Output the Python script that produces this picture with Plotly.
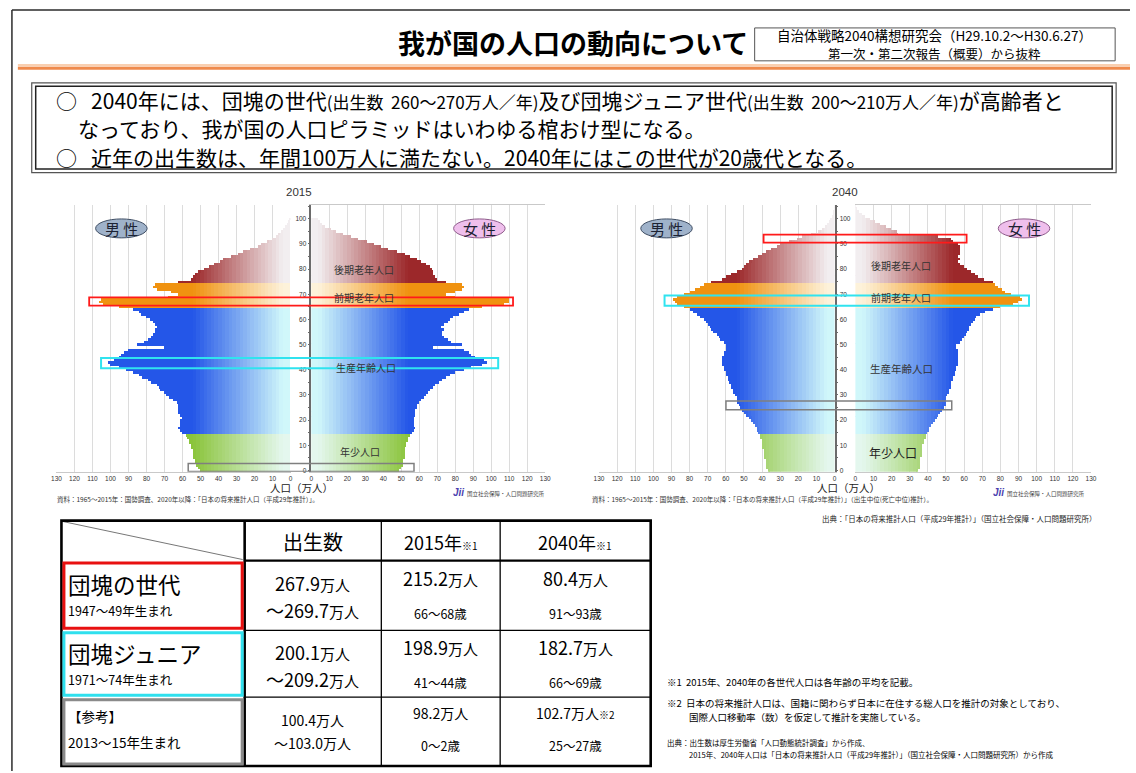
import plotly.graph_objects as go

W, H = 1136, 773


def X(px):
    return px / W


def Y(py):
    return 1 - py / H


# ---------------- data (万人, single-year ages) ----------------
ages_2015 = list(range(0, 101))
male_2015 = [
    50, 51, 52, 53, 53, 54, 54, 54, 54, 55,
    55, 56, 56, 57, 58, 60, 61, 62, 61, 61,
    61, 60, 61, 62, 62, 62, 62, 63, 65, 67,
    69, 70, 72, 73, 74, 77, 79, 82, 84, 87,
    91, 95, 100, 101, 98, 95, 94, 92, 90, 70,
    85, 81, 79, 77, 76, 75, 75, 74, 75, 76,
    78, 80, 83, 84, 87, 95, 104, 106, 105, 68,
    62, 66, 74, 76, 75, 62, 55, 54, 53, 51,
    48, 45, 42, 39, 37, 33, 29, 26, 22, 18,
    16, 13, 10, 8, 6.5, 4.6, 3.7, 2.8, 1.8, 1.3, 0.7,
]
female_2015 = [
    49, 50, 51, 51, 51, 52, 52, 52, 52, 52,
    53, 53, 54, 54, 55, 56, 57, 58, 57, 57,
    57, 57, 58, 58, 58, 59, 59, 60, 61, 63,
    64, 65, 66, 68, 69, 71, 73, 75, 77, 80,
    85, 89, 95, 98, 96, 91, 89, 88, 85, 68,
    84, 78, 76, 74, 73, 73, 74, 72, 74, 76,
    77, 79, 82, 85, 88, 95, 107, 110, 110, 80,
    75, 80, 84, 85, 84, 75, 70, 69, 68, 68,
    67, 66, 64, 61, 59, 55, 52, 48, 43, 39,
    35, 31, 26, 22, 18, 14, 11, 8, 6, 5, 4,
]
ages_2040 = list(range(0, 106))
male_2040 = [
    37, 38, 38, 38, 38, 39, 39, 39, 39, 40,
    40, 40, 40, 41, 41, 42, 43, 43, 44, 45,
    46, 47, 49, 50, 51, 52, 53, 54, 54, 54,
    55, 56, 56, 57, 57, 58, 59, 59, 60, 60,
    61, 61, 62, 62, 62, 62, 61, 61, 60, 60,
    60, 61, 63, 64, 65, 67, 68, 69, 70, 71,
    72, 74, 76, 78, 80, 83, 87, 88, 89, 87,
    83, 80, 77, 74, 72, 68, 62, 60, 57, 54,
    51, 50, 49, 47, 45, 42, 40, 38, 35, 32,
    30, 25, 21, 18, 13, 9, 7, 5.5, 4, 3,
    2.2, 1.5, 1, 0.6, 0.3, 0.2,
]
female_2040 = [
    35, 36, 36, 36, 36, 36, 37, 37, 37, 37,
    37, 38, 38, 39, 39, 40, 41, 41, 42, 43,
    44, 45, 46, 47, 48, 49, 50, 50, 50, 50,
    51, 52, 52, 53, 53, 53, 54, 54, 55, 55,
    56, 56, 57, 57, 57, 57, 57, 57, 57, 56,
    56, 58, 59, 60, 61, 62, 63, 63, 64, 65,
    66, 67, 69, 72, 76, 80, 87, 90, 92, 91,
    86, 83, 81, 79, 77, 76, 71, 68, 66, 64,
    62, 60, 58, 57, 58, 57, 58, 58, 58, 58,
    57, 54, 53, 46, 24, 23, 20, 17, 14, 11,
    8, 5.5, 3.6, 2.2, 1.1, 0.5,
]

x_ticks = list(range(0, 131, 10))
age_ticks = list(range(0, 101, 10))

table_rows = ["団塊の世代", "団塊ジュニア", "【参考】"]
table_born = ["1947～49年生まれ", "1971～74年生まれ", "2013～15年生まれ"]
births_from = ["267.9", "200.1", "100.4"]
births_to = ["269.7", "209.2", "103.0"]
pop_2015 = ["215.2", "198.9", "98.2"]
age_2015 = ["66～68歳", "41～44歳", "0～2歳"]
pop_2040 = ["80.4", "182.7", "102.7"]
age_2040 = ["91～93歳", "66～69歳", "25～27歳"]

# ---------------- styling ----------------
JP = "Noto Sans CJK JP"
LAT = "Liberation Sans, Arial"
BANDS = list(range(0, 64, 2)) + [140]
GROUP_COL = {
    "young": ((228, 247, 238), (138, 196, 58)),
    "work": ((208, 247, 250), (36, 86, 232)),
    "old1": ((253, 242, 218), (240, 146, 16)),
    "old2": ((242, 238, 240), (156, 40, 42)),
}


def group(age):
    if age <= 14:
        return "young"
    if age <= 64:
        return "work"
    if age <= 74:
        return "old1"
    return "old2"


def lerp(c1, c2, t):
    return "rgb(%d,%d,%d)" % tuple(round(a + (b - a) * t) for a, b in zip(c1, c2))


fig = go.Figure()


def add_side(ages, vals, xa, ya):
    for lo, hi in zip(BANDS[:-1], BANDS[1:]):
        mid = (lo + min(hi, 64)) / 2
        t = max(0.0, min(1.0, (mid - 4) / 50))
        seg = [max(0.0, min(v, hi) - lo) for v in vals]
        cols = [lerp(GROUP_COL[group(a)][0], GROUP_COL[group(a)][1], t) for a in ages]
        fig.add_trace(go.Bar(
            y=ages, x=seg, orientation="h", xaxis=xa, yaxis=ya, width=1.02,
            marker=dict(color=cols, line=dict(width=0)),
            showlegend=False, hoverinfo="skip"))


add_side(ages_2015, male_2015, "x", "y")
add_side(ages_2015, female_2015, "x2", "y")
add_side(ages_2040, male_2040, "x3", "y2")
add_side(ages_2040, female_2040, "x4", "y2")

YDOM = [Y(473), Y(205.4)]
xcommon = dict(tickvals=x_ticks, showgrid=True, gridcolor="#dcdcdc", gridwidth=1,
               zeroline=False, ticks="", tickfont=dict(family=LAT, size=6.5, color="#333"),
               showline=True, linecolor="#c9c9c9", linewidth=1, fixedrange=True)
ycommon = dict(range=[-0.5, 105.5], tickvals=age_ticks, showgrid=False, zeroline=False,
               showline=True, linecolor="#6b6b6b", linewidth=1.5, ticks="outside",
               ticklen=2, tickcolor="#6b6b6b", tickfont=dict(family=LAT, size=6.5, color="#333"),
               minor=dict(dtick=5, ticks="outside", ticklen=2, tickcolor="#6b6b6b"),
               fixedrange=True, domain=YDOM)

fig.update_layout(
    width=W, height=H, autosize=False,
    margin=dict(l=0, r=0, t=0, b=0),
    paper_bgcolor="white", plot_bgcolor="white",
    barmode="stack", bargap=0, showlegend=False,
    xaxis=dict(domain=[X(52), X(288.3)], range=[130, 0], anchor="y", **xcommon),
    xaxis2=dict(domain=[X(309.3), X(545.5)], range=[0, 130], anchor="y", mirror=True, **xcommon),
    xaxis3=dict(domain=[X(599.8), X(837.7)], range=[130, 0], anchor="y2", **xcommon),
    xaxis4=dict(domain=[X(858.7), X(1096.6)], range=[0, 130], anchor="y2", mirror=True, **xcommon),
    yaxis=dict(anchor="x2", side="left", **ycommon),
    yaxis2=dict(anchor="x3", side="right", **ycommon),
)

shapes = []
ann = []


def text(x, y, s, size, color="#000", family=JP, xanchor="center", yanchor="middle"):
    ann.append(dict(x=X(x), y=Y(y), xref="paper", yref="paper", text=s, showarrow=False,
                    xanchor=xanchor, yanchor=yanchor, align="left" if xanchor == "left" else "center",
                    borderpad=0, font=dict(family=family, size=size, color=color)))


def line(x0, y0, x1, y1, color, width):
    shapes.append(dict(type="line", xref="paper", yref="paper", x0=X(x0), y0=Y(y0),
                       x1=X(x1), y1=Y(y1), line=dict(color=color, width=width)))


def rect(x0, y0, x1, y1, color, width, fill=None):
    d = dict(type="rect", xref="paper", yref="paper", x0=X(x0), y0=Y(y0), x1=X(x1), y1=Y(y1),
             line=dict(color=color, width=width))
    if fill:
        d["fillcolor"] = fill
    shapes.append(d)


def age_box(x0, x1, a0, a1, yref, color, width):
    shapes.append(dict(type="rect", xref="paper", yref=yref, x0=X(x0), x1=X(x1), y0=a0, y1=a1,
                       line=dict(color=color, width=width)))


# ---------- slide frame and header ----------
line(7, 10, 1136, 10, "#2b2b2b", 1.5)
line(7, 10, 7, 773, "#2b2b2b", 1.5)
line(13, 65.5, 1136, 65.5, "#f9cfb0", 2.5)
line(13, 68.5, 1136, 68.5, "#ef8a4c", 3)
text(574, 43, "<b>我が国の人口の動向について</b>", 27)
rect(757, 28, 1121, 61, "#555", 1)
text(939, 35.5, "自治体戦略2040構想研究会（H29.10.2～H30.6.27）", 13.5)
text(939, 53.5, "第一次・第二次報告（概要）から抜粋", 12.5)

# ---------- summary box ----------
rect(27, 83, 1122, 173, "#555", 1.2)
rect(31, 86.5, 1118, 169.5, "#222", 1.5)
sp = "\u00a0"
sm = "<span style='font-size:17px'>"
text(50, 100, "○" + sp * 3 + "2040年には、団塊の世代" + sm + "(出生数" + sp * 2 + "260～270万人／年)</span>及び団塊ジュニア世代"
     + sm + "(出生数" + sp * 2 + "200～210万人／年)</span>が高齢者と", 21, xanchor="left")
text(73, 128.5, "なっており、我が国の人口ピラミッドはいわゆる棺おけ型になる。", 21, xanchor="left")
text(50, 157, "○" + sp * 3 + "近年の出生数は、年間100万人に満たない。2040年にはこの世代が20歳代となる。", 21, xanchor="left")

# ---------- pyramids decorations ----------
for cx, year in ((297, "2015"), (848, "2040")):
    text(cx, 192, year, 11.5, color="#333", family=LAT)
for cx in (117.5, 668):
    shapes.append(dict(type="circle", xref="paper", yref="paper", x0=X(cx - 26), x1=X(cx + 26),
                       y0=Y(238.5), y1=Y(219.5), fillcolor="#9fb2ca", line=dict(color="#3e4d63", width=1)))
    text(cx, 229, "男 性", 15, color="#1c2233")
for cx in (479, 1029):
    shapes.append(dict(type="circle", xref="paper", yref="paper", x0=X(cx - 26), x1=X(cx + 26),
                       y0=Y(238.5), y1=Y(219.5), fillcolor="#efbfec", line=dict(color="#8e5b8b", width=1)))
    text(cx, 229, "女 性", 15, color="#1c2233")

text(363, 270, "後期老年人口", 10, color="#333")
text(363, 298, "前期老年人口", 10, color="#333")
text(365, 368, "生産年齢人口", 10, color="#333")
text(358, 453, "年少人口", 10, color="#333")
text(905, 266, "後期老年人口", 10, color="#333")
text(905, 298, "前期老年人口", 10, color="#333")
text(905, 369, "生産年齢人口", 10.5, color="#333")
text(897, 454, "年少人口", 12, color="#222")

text(299, 489, "人口（万人）", 10.5, color="#222")
text(852, 489, "人口（万人）", 10.5, color="#222")
text(52, 500, "資料：1965～2015年：国勢調査、2020年以降：「日本の将来推計人口（平成29年推計）」。",
     6.5, color="#333", xanchor="left")
text(592, 500, "資料：1965～2015年：国勢調査、2020年以降：「日本の将来推計人口（平成29年推計）」（出生中位(死亡中位)推計）。",
     6.5, color="#333", xanchor="left")
for lx in (458, 1003):
    text(lx, 494, "<b><i>Jii</i></b>", 10, color="#4b3fb0", family=LAT)
    text(lx + 8, 495, "国立社会保障・人口問題研究所", 5.5, color="#444", xanchor="left")
text(1104, 520, "出典：「日本の将来推計人口（平成29年推計）」（国立社会保障・人口問題研究所）", 7.5,
     color="#222", xanchor="right")

# highlight boxes on pyramids
age_box(85, 513, 65.5, 68.8, "y", "#ff1a1a", 1.8)
age_box(97, 498, 40.6, 44.7, "y", "#30e3ef", 2)
age_box(185, 413, -0.4, 2.8, "y", "#7f7f7f", 1.5)
age_box(766, 971, 90.5, 93.7, "y2", "#ff1a1a", 1.8)
age_box(666, 1034, 65.4, 69.5, "y2", "#30e3ef", 2)
age_box(728, 956, 24.1, 27.6, "y2", "#7f7f7f", 1.5)

# ---------- table ----------
TX = [57, 242, 380, 500, 652]
TY = [522, 562, 632, 699, 768]
line(59, 523, 240, 561, "#777", 1)
for yy in TY[1:4]:
    line(TX[1], yy, TX[4], yy, "#000", 1.3 if yy != TY[1] else 2.2)
for xx in TX[2:4]:
    line(xx, TY[0], xx, TY[4], "#000", 1.3)
line(TX[1], TY[0], TX[1], TY[4], "#000", 2.6)
rect(TX[0], TY[0], TX[4], TY[4], "#000", 2.6)
rect(59.5, 564.5, 239.5, 630, "#e81010", 3)
rect(59.5, 634.5, 239.5, 697, "#2fe0ee", 3)
rect(59.5, 701.5, 239.5, 766, "#8a8a8a", 3)

ccx = [(TX[1] + TX[2]) / 2, (TX[2] + TX[3]) / 2, (TX[3] + TX[4]) / 2]
text(ccx[0], 543, "出生数", 20)
text(ccx[1], 543, "2015年<span style='font-size:10px'>※1</span>", 18)
text(ccx[2], 543, "2040年<span style='font-size:10px'>※1</span>", 18)

row_main_y = [586, 655, 718]
row_sub_y = [612, 681, 744]
man = "<span style='font-size:15px'>万人</span>"
for i in range(3):
    big = i < 2
    text(63, row_main_y[i], table_rows[i], 22.5 if big else 13.5, xanchor="left")
    text(63, row_sub_y[i], table_born[i], 12.5 if big else 13.5, xanchor="left")
    if big:
        text(ccx[0], row_main_y[i] - 1, births_from[i] + man, 18)
        text(ccx[0], row_sub_y[i], "～" + births_to[i] + man, 18)
        text(ccx[1], row_main_y[i] - 6, pop_2015[i] + man, 18)
        text(ccx[2], row_main_y[i] - 6, pop_2040[i] + man, 18)
    else:
        text(ccx[0], 722, births_from[i] + "万人", 14)
        text(ccx[0], 745, "～" + births_to[i] + "万人", 14)
        text(ccx[1], 715, pop_2015[i] + "万人", 14)
        text(ccx[2], 715, pop_2040[i] + "万人<span style='font-size:10px'>※2</span>", 14)
    text(ccx[1], row_sub_y[i] + 3, age_2015[i], 12.5)
    text(ccx[2], row_sub_y[i] + 3, age_2040[i], 12.5)

# ---------- footnotes ----------
text(667, 684, "※1  2015年、2040年の各世代人口は各年齢の平均を記載。", 9.5, xanchor="left")
text(667, 705, "※2  日本の将来推計人口は、国籍に関わらず日本に在住する総人口を推計の対象としており、", 9.5, xanchor="left")
text(690, 719, "国際人口移動率（数）を仮定して推計を実施している。", 9.5, xanchor="left")
text(667, 744, "出典：出生数は厚生労働省「人口動態統計調査」から作成、", 7.5, xanchor="left")
text(690, 756, "2015年、2040年人口は「日本の将来推計人口（平成29年推計）」（国立社会保障・人口問題研究所）から作成",
     7.5, xanchor="left")

fig.update_layout(shapes=shapes, annotations=ann)
fig.write_html("out.html")
